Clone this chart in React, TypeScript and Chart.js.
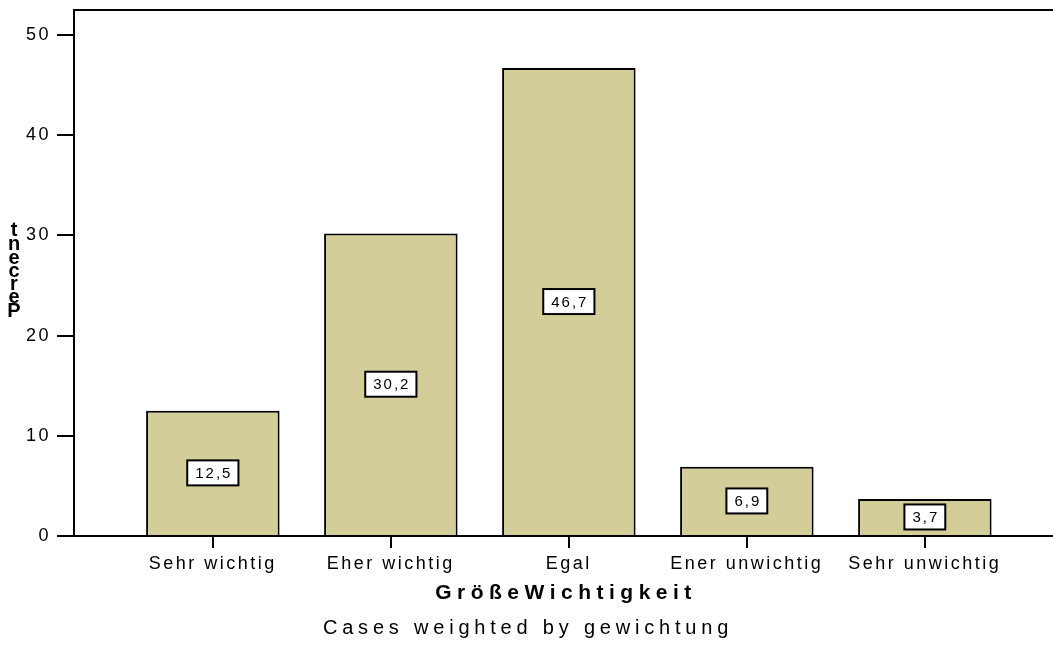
import React, { useEffect, useRef } from "react";
import { Chart, registerables } from "chart.js";

Chart.register(...registerables);

const categories = ["Sehr wichtig", "Eher wichtig", "Egal", "Ener unwichtig", "Sehr unwichtig"];
const percentValues = [12.5, 30.2, 46.7, 6.9, 3.7];
const valueLabels = ["12,5", "30,2", "46,7", "6,9", "3,7"];
const yTickValues = [0, 10, 20, 30, 40, 50];
const xTitle = "GrößeWichtigkeit";
const yTitle = "Percent";
const footnote = "Cases weighted by gewichtung";

const FONT = "'Liberation Sans', Arial, sans-serif";
const BAR_COLOR = "#D3CE99";

export default function App() {
  const ref = useRef<HTMLCanvasElement | null>(null);

  useEffect(() => {
    const canvas = ref.current;
    if (!canvas) return;
    document.body.style.margin = "0";

    const spacing = (chart: any) => {
      (chart.ctx as any).letterSpacing = "2.5px";
    };

    const decor = {
      id: "decor",
      beforeUpdate: spacing,
      beforeLayout: spacing,
      beforeDraw: spacing,
      afterDatasetsDraw(chart: any) {
        const ctx = chart.ctx;
        const meta = chart.getDatasetMeta(0);
        ctx.save();
        (ctx as any).letterSpacing = "2px";
        ctx.font = `15px ${FONT}`;
        ctx.textAlign = "center";
        ctx.textBaseline = "middle";
        meta.data.forEach((el: any, i: number) => {
          const cy = (el.y + el.base) / 2;
          const txt = valueLabels[i];
          const w = ctx.measureText(txt).width + 14;
          const h = 25;
          ctx.fillStyle = "#ffffff";
          ctx.fillRect(el.x - w / 2, cy - h / 2, w, h);
          ctx.strokeStyle = "#000000";
          ctx.lineWidth = 2;
          ctx.strokeRect(el.x - w / 2, cy - h / 2, w, h);
          ctx.fillStyle = "#000000";
          ctx.fillText(txt, el.x + 1, cy + 1);
        });
        ctx.restore();
      },
      afterDraw(chart: any) {
        const ctx = chart.ctx;
        const a = chart.chartArea;
        ctx.save();
        ctx.strokeStyle = "#000000";
        ctx.lineWidth = 2;
        ctx.beginPath();
        ctx.moveTo(a.left - 1, a.top);
        ctx.lineTo(a.right, a.top);
        ctx.stroke();

        ctx.fillStyle = "#000000";
        ctx.textAlign = "center";
        ctx.textBaseline = "alphabetic";
        (ctx as any).letterSpacing = "5.5px";
        ctx.font = `bold 21px ${FONT}`;
        ctx.fillText(xTitle, 566, 599);
        (ctx as any).letterSpacing = "4.8px";
        ctx.font = `20px ${FONT}`;
        ctx.fillText(footnote, 528, 634);
        (ctx as any).letterSpacing = "0px";
        ctx.font = `bold 20px ${FONT}`;
        const baselines = [317, 303, 290, 277, 264, 250, 236];
        for (let i = 0; i < yTitle.length; i++) {
          ctx.fillText(yTitle[i], 14, baselines[i]);
        }
        ctx.restore();
      },
    };

    const chart = new Chart(canvas, {
      type: "bar",
      data: {
        datasets: [
          {
            data: percentValues.map((v, i) => ({ x: i, y: v })),
            backgroundColor: BAR_COLOR,
            borderColor: "#000000",
            borderWidth: 2,
            borderSkipped: "bottom",
            barPercentage: 0.75,
            categoryPercentage: 1,
          },
        ],
      },
      options: {
        responsive: false,
        animation: false,
        layout: { padding: { top: 10, right: 0, left: 0, bottom: 0 } },
        plugins: {
          legend: { display: false },
          tooltip: { enabled: false },
          title: { display: false },
        },
        scales: {
          x: {
            type: "linear",
            min: -0.78,
            max: 4.72,
            offset: false,
            afterBuildTicks: (scale: any) => {
              scale.ticks = categories.map((_, i) => ({ value: i }));
            },
            afterFit: (scale: any) => {
              scale.height = 121;
              scale.paddingLeft = 0;
              scale.paddingRight = 0;
            },
            border: { display: true, color: "#000000", width: 2 },
            grid: {
              offset: false,
              drawOnChartArea: false,
              drawTicks: true,
              tickLength: 12,
              color: "#000000",
              lineWidth: 2,
            },
            ticks: {
              autoSkip: false,
              maxRotation: 0,
              minRotation: 0,
              padding: 5,
              color: "#000000",
              font: { family: FONT, size: 18 },
              callback: (v: any) => categories[Math.round(Number(v))] ?? "",
            },
          },
          y: {
            min: 0,
            max: 52.5,
            afterBuildTicks: (scale: any) => {
              scale.ticks = yTickValues.map((v) => ({ value: v }));
            },
            afterFit: (scale: any) => {
              scale.width = 74;
              scale.paddingTop = 0;
              scale.paddingBottom = 0;
            },
            border: { display: true, color: "#000000", width: 2 },
            grid: {
              drawOnChartArea: false,
              drawTicks: true,
              tickLength: 17,
              color: "#000000",
              lineWidth: 2,
            },
            ticks: {
              padding: 6,
              color: "#000000",
              font: { family: FONT, size: 18 },
              callback: (v: any) => String(v),
            },
          },
        },
      },
      plugins: [decor],
    });

    return () => chart.destroy();
  }, []);

  return (
    <div style={{ position: "fixed", left: 0, top: 0, width: 1053, height: 657, background: "#fff" }}>
      <canvas ref={ref} width={1053} height={657} style={{ width: 1053, height: 657, display: "block" }} />
    </div>
  );
}
